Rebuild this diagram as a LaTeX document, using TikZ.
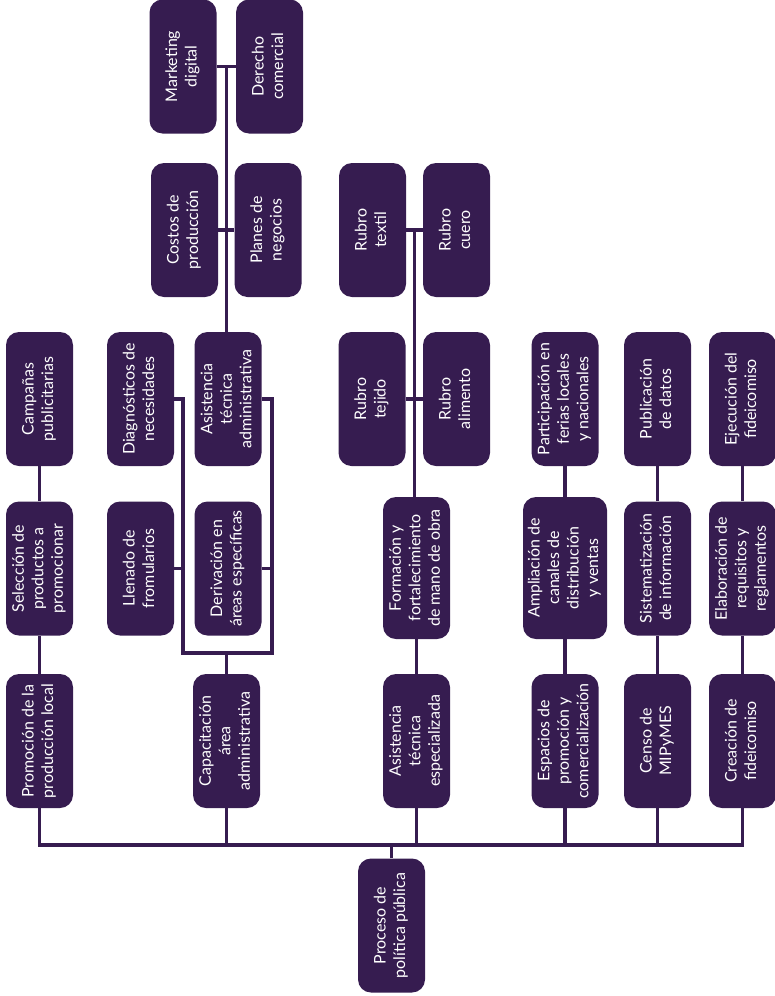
\documentclass[tikz,border=0pt]{standalone}
\usepackage{fontspec}
\setmainfont{Lato}
\usepackage{graphicx}
\usetikzlibrary{calc}
\definecolor{pp}{RGB}{54,28,80}
\newcommand{\vt}[1]{\rotatebox{90}{\begin{tabular}{@{}c@{}}#1\end{tabular}}}
\tikzset{
  box/.style={fill=pp, rounded corners=13pt, minimum width=67pt, minimum height=134pt,
    inner sep=0pt, text=white, font=\fontsize{16}{19.5}\selectfont},
  tallbox/.style={box, minimum height=142pt},
  widebox/.style={box, minimum width=84pt, minimum height=142pt},
  link/.style={draw=pp, line width=3.2pt}
}
\begin{document}
\begin{tikzpicture}[x=1pt,y=-1pt]
\useasboundingbox (0,0) rectangle (775,996);
% ---- nodes ----
% Row A
\node[box] (mkt) at (183,66.5) {\vt{Marketing\\digital}};
\node[box] (der) at (269.5,66.5) {\vt{Derecho\\comercial}};
% Row B
\node[box] (cost) at (184.5,230) {\vt{Costos de\\producción}};
\node[box] (plan) at (268,230) {\vt{Planes de\\negocios}};
\node[box] (text) at (372.5,230) {\vt{Rubro\\textil}};
\node[box] (cuer) at (456.5,230) {\vt{Rubro\\cuero}};
% Row C
\node[box] (camp) at (39.5,399) {\vt{Campañas\\publicitarias}};
\node[box] (diag) at (140.5,399) {\vt{Diagnósticos de\\necesidades}};
\node[box] (ata) at (228,399) {\vt{Asistencia\\técnica\\administrativa}};
\node[box] (teji) at (372,399) {\vt{Rubro\\tejido}};
\node[box] (alim) at (456.5,399) {\vt{Rubro\\alimento}};
\node[box] (part) at (565,399) {\vt{Participación en\\ferias locales\\y nacionales}};
\node[box] (publ) at (657.5,399) {\vt{Publicación\\de datos}};
\node[box] (ejec) at (742.5,399) {\vt{Ejecución del\\fideicomiso}};
% Row D
\node[box] (sele) at (39.5,568.5) {\vt{Selección de\\productos a\\promocionar}};
\node[box] (llen) at (140.5,568.5) {\vt{Llenado de\\fromularios}};
\node[box] (deri) at (228,568.5) {\vt{Derivación en\\áreas específicas}};
\node[tallbox] (form) at (416.5,568) {\vt{Formación y\\fortalecimiento\\de mano de obra}};
\node[widebox] (ampl) at (565,568) {\vt{Ampliación de\\canales de\\distribución\\y ventas}};
\node[box] (sist) at (657.5,568.5) {\vt{Sistematización\\de información}};
\node[box] (elab) at (742.5,568.5) {\vt{Elaboración de\\requisitos y\\reglamentos}};
% Row E
\node[box] (promo) at (39.5,741) {\vt{Promoción de la\\producción local}};
\node[box] (capa) at (226.5,741) {\vt{Capacitación\\área\\administrativa}};
\node[box] (aesp) at (416.5,741) {\vt{Asistencia\\técnica\\especializada}};
\node[box] (espa) at (565,741) {\vt{Espacios de\\promoción y\\comercialización}};
\node[box] (cens) at (657.5,741) {\vt{Censo de\\MIPyMES}};
\node[box] (crea) at (742.5,741) {\vt{Creación de\\fideicomiso}};
% Root
\node[box] (root) at (391.5,925.5) {\vt{Proceso de\\política pública}};
% ---- coordinates ----
\coordinate (bus) at (0,845);
\coordinate (bl) at (183,653);
\coordinate (br) at (272,653);
\coordinate (j1) at ($(mkt.east)!0.5!(der.west)$);
\coordinate (j3) at ($(text.east)!0.5!(cuer.west)$);
% ---- connectors ----
% bus and root
\draw[link] (promo.south) |- (crea.south |- bus) -- (crea.south);
\draw[link] (capa.south) -- (capa.south |- bus);
\draw[link] (aesp.south) -- (aesp.south |- bus);
\draw[link] (espa.south) -- (espa.south |- bus);
\draw[link] (cens.south) -- (cens.south |- bus);
\draw[link] (root.north) -- (root.north |- bus);
% column 1
\draw[link] (promo.north) -- (sele.south);
\draw[link] (sele.north) -- (camp.south);
% bracket
\draw[link] (capa.north) -- (capa.north |- bl);
\draw[link] (diag.east) -| (bl) -- (br) |- (ata.east);
\draw[link] (llen.east) -- (llen.east -| bl);
\draw[link] (deri.east) -- (deri.east -| br);
% asistencia tecnica administrativa branch
\draw[link] (j1 |- ata.north) -- (j1);
\draw[link] (mkt.east) -- (der.west);
\draw[link] (cost.east) -- (plan.west);
% rubro branch
\draw[link] (aesp.north) -- (form.south);
\draw[link] (j3 |- form.north) -- (j3);
\draw[link] (text.east) -- (cuer.west);
\draw[link] (teji.east) -- (alim.west);
% espacios
\draw[link] (espa.north) -- (ampl.south);
\draw[link] (ampl.north) -- (part.south);
% censo
\draw[link] (cens.north) -- (sist.south);
\draw[link] (sist.north) -- (publ.south);
% creacion
\draw[link] (crea.north) -- (elab.south);
\draw[link] (elab.north) -- (ejec.south);
\end{tikzpicture}
\end{document}
